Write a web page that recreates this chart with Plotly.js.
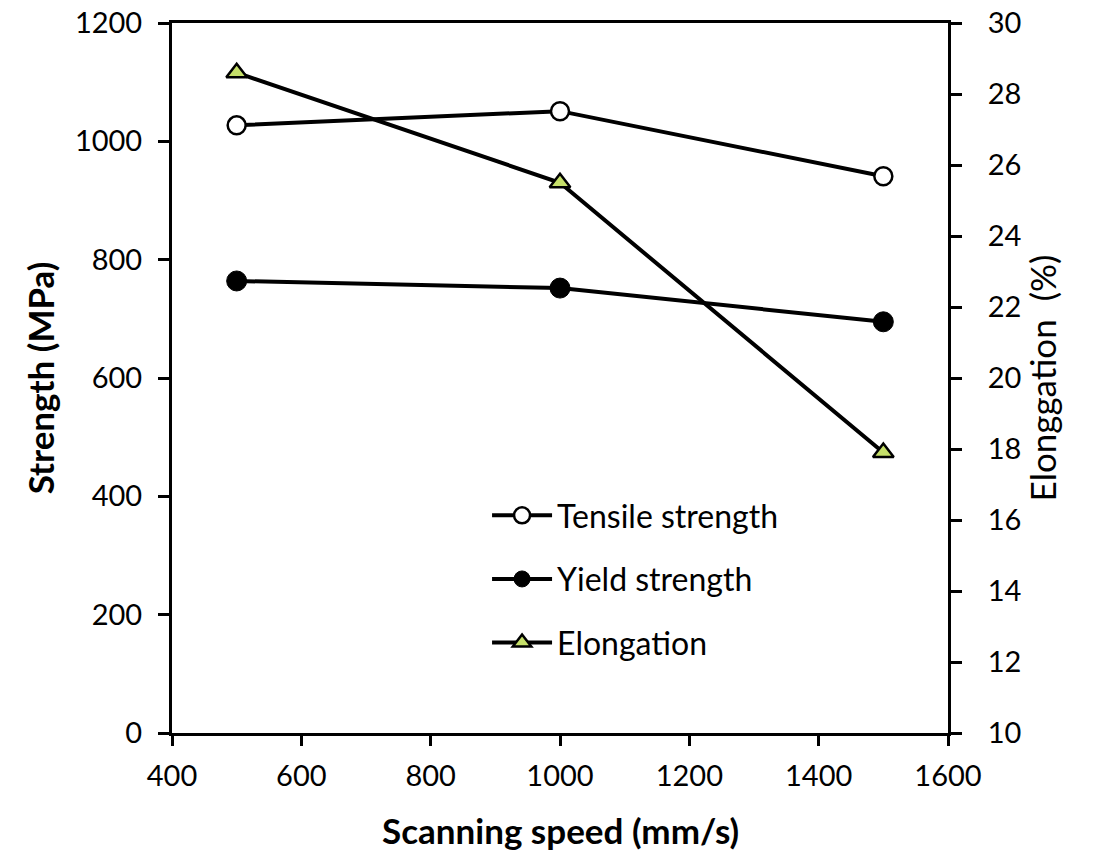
<!DOCTYPE html>
<html>
<head>
<meta charset="utf-8">
<script src="https://cdn.plot.ly/plotly-3.0.1.min.js"></script>
<style>html,body{margin:0;padding:0;background:#fff;}#chart{width:1094px;height:854px;}</style>
</head>
<body>
<div id="chart"></div>
<script>
const speed = [500, 1000, 1500];
const tensileStrength = [1027, 1051, 941];
const yieldStrength = [764, 752, 695];
const elongation = [28.6, 25.5, 17.9];

const FONT = 'Lato, "Open Sans", sans-serif';

const traces = [
  {x: speed, y: tensileStrength, name: 'Tensile strength', legendgroup: 'a', type: 'scatter', mode: 'lines+markers',
   line: {color: '#000', width: 4},
   marker: {symbol: 'circle', size: 18, color: '#fff', line: {color: '#000', width: 2.5}}},
  {x: speed, y: yieldStrength, name: 'Yield strength', legendgroup: 'b', type: 'scatter', mode: 'lines+markers',
   line: {color: '#000', width: 4},
   marker: {symbol: 'circle', size: 20, color: '#000', line: {color: '#000', width: 1}}},
  {x: speed, y: elongation, name: 'Elongation', legendgroup: 'c', type: 'scatter', mode: 'lines+markers', yaxis: 'y2',
   line: {color: '#000', width: 4},
   marker: {symbol: 'triangle-up', size: 18, color: '#c6e06a', line: {color: '#000', width: 2.5}}}
];

const layout = {
  width: 1094, height: 854,
  margin: {l: 172, r: 146, t: 23, b: 121},
  paper_bgcolor: '#fff', plot_bgcolor: '#fff',
  font: {family: FONT, color: '#000', size: 29},
  showlegend: true,
  legend: {x: 0.406, y: 0.345, xanchor: 'left', yanchor: 'top', bgcolor: 'rgba(0,0,0,0)',
           font: {family: FONT, size: 32, color: '#000'}, tracegroupgap: 19, itemwidth: 60},
  annotations: [
    {text: '<b>Scanning speed (mm/s)</b>', xref: 'paper', yref: 'paper', x: 0.5, y: -0.136,
     xanchor: 'center', yanchor: 'middle', showarrow: false, font: {family: FONT, size: 35, color: '#000'}}
  ],
  xaxis: {range: [400, 1600], dtick: 200, tick0: 400, showgrid: false, zeroline: false,
          showline: true, linecolor: '#000', linewidth: 3, mirror: true,
          ticks: 'outside', ticklen: 10, tickwidth: 2.5, tickcolor: '#000', ticklabelstandoff: 5,
          tickfont: {family: FONT, size: 29}},
  yaxis: {range: [0, 1200], dtick: 200, tick0: 0, showgrid: false, zeroline: false,
          showline: true, linecolor: '#000', linewidth: 3,
          ticks: 'outside', ticklen: 11, tickwidth: 2.5, tickcolor: '#000', ticklabelstandoff: 10,
          tickfont: {family: FONT, size: 29},
          title: {text: '<b>Strength (MPa)</b>', font: {family: FONT, size: 35}, standoff: 10}},
  yaxis2: {range: [10, 30], dtick: 2, tick0: 10, overlaying: 'y', side: 'right', showgrid: false, zeroline: false,
           showline: true, linecolor: '#000', linewidth: 3,
           ticks: 'outside', ticklen: 11, tickwidth: 2.5, tickcolor: '#000', ticklabelstandoff: 20,
           tickfont: {family: FONT, size: 29},
           title: {text: 'Elonggation&nbsp;&nbsp;(%)', font: {family: FONT, size: 35}, standoff: 12}}
};

Plotly.newPlot('chart', traces, layout, {displayModeBar: false, responsive: false});
</script>
</body>
</html>
